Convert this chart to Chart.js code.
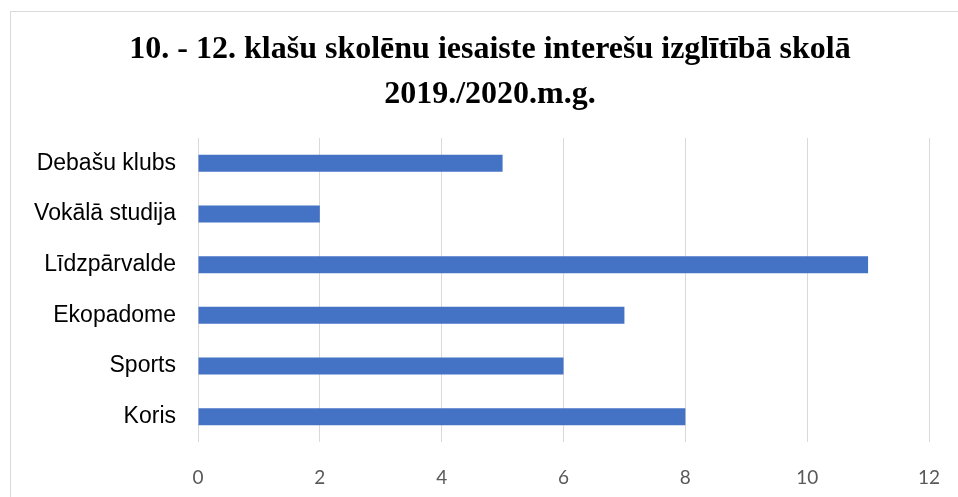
<!DOCTYPE html>
<html>
<head>
<meta charset="utf-8">
<script src="https://cdn.jsdelivr.net/npm/chart.js@4"></script>
<style>
  html, body { margin: 0; padding: 0; background: #fff; overflow: hidden; }
</style>
</head>
<body>
<canvas id="chart" width="958" height="497"></canvas>
<script>
// data
const categories = ['Debašu klubs', 'Vokālā studija', 'Līdzpārvalde', 'Ekopadome', 'Sports', 'Koris'];
const pupils = [5, 2, 11, 7, 6, 8];
const titleLines = ['10. - 12. klašu skolēnu iesaiste interešu izglītībā skolā', '2019./2020.m.g.'];
const xMin = 0;
const xMax = 12;
const xStep = 2;

// light grey frame round the chart and the two-line title,
// centred on the frame rather than on the canvas
const framePlugin = {
  id: 'frame',
  beforeDraw(chart) {
    const ctx = chart.ctx;
    ctx.save();
    ctx.fillStyle = '#fff';
    ctx.fillRect(0, 0, chart.width, chart.height);
    ctx.strokeStyle = '#d9d9d9';
    ctx.lineWidth = 1;
    ctx.strokeRect(10.5, 11.5, 1000, 600);
    ctx.fillStyle = '#000';
    ctx.font = 'bold 32px "Liberation Serif"';
    ctx.textAlign = 'center';
    ctx.textBaseline = 'middle';
    titleLines.forEach((line, i) => {
      ctx.fillText(line, 490, 50 + i * 45);
    });
    ctx.restore();
  }
};

const ctx = document.getElementById('chart').getContext('2d');
new Chart(ctx, {
  type: 'bar',
  data: {
    labels: categories,
    datasets: [{
      label: 'Skolēni',
      data: pupils,
      backgroundColor: '#4472C4',
      borderWidth: 0,
      barPercentage: 0.5,
      categoryPercentage: 0.67,
    }],
  },
  options: {
    indexAxis: 'y',
    responsive: false,
    animation: false,
    layout: { padding: { left: 0, right: 0, top: 138, bottom: 0 } },
    scales: {
      x: {
        min: xMin,
        max: xMax,
        ticks: {
          stepSize: xStep,
          color: '#595959',
          padding: 24,
          font: { family: 'Lato', size: 19 },
        },
        grid: { color: '#d9d9d9', lineWidth: 1, drawTicks: false },
        border: { display: false },
        afterFit: (scale) => {
          scale.height = 55;
          // tick padding would otherwise eat into the right side
          scale.paddingLeft = 0;
          scale.paddingRight = 29;
        },
      },
      y: {
        ticks: {
          color: '#000',
          padding: 22,
          font: { family: 'Liberation Sans', size: 23 },
        },
        grid: { display: false, drawTicks: false },
        border: { display: false },
        afterFit: (scale) => { scale.width = 198; },
      },
    },
    plugins: {
      legend: { display: false },
      tooltip: { enabled: false },
      title: { display: false },
    },
  },
  plugins: [framePlugin],
});
</script>
</body>
</html>
